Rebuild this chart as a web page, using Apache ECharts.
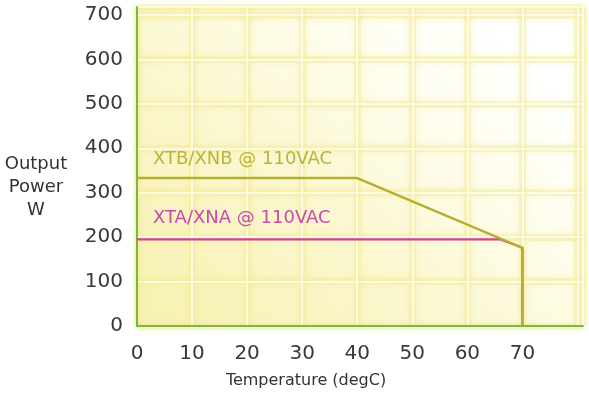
<!DOCTYPE html>
<html><head><meta charset="utf-8">
<script src="https://cdn.jsdelivr.net/npm/echarts@6/dist/echarts.min.js"></script>
<style>html,body{margin:0;padding:0;background:#fff}#c{width:589px;height:396px}</style>
</head><body><div id="c"></div>
<script>
var xTicks = [0, 10, 20, 30, 40, 50, 60, 70];
var yTicks = [0, 100, 200, 300, 400, 500, 600, 700];
var xtbTemp = [0, 40, 70, 70];
var xtbPower = [333, 333, 176, 0];
var xtaTemp = [0, 66, 70, 70];
var xtaPower = [195, 195, 176, 0];
var xtbLabel = 'XTB/XNB @ 110VAC';
var xtaLabel = 'XTA/XNA @ 110VAC';
var yTitle = ['Output', 'Power', 'W'];
var xTitle = 'Temperature (degC)';

function pairs(xs, ys){ return xs.map(function(v,i){ return [v, ys[i]]; }); }

var chart = echarts.init(document.getElementById('c'), null, {renderer:'canvas'});
var FONT = 'DejaVu Sans';
var whiteLine = {color:'rgba(255,255,255,0.9)', width:1.5};
var bandLine = {color:'rgba(243,236,150,0.45)', width:7, shadowColor:'rgba(243,236,150,0.7)', shadowBlur:6};
function xAx(main){
  return {type:'value', position:'bottom', min:0, max:81, interval:10, z: main ? 2 : 1,
    axisLine:{show:main, onZero:false, lineStyle:{color:'#74b84e', width:2}},
    axisTick:{show:false},
    axisLabel:{show:main, margin:18, fontSize:20, color:'#383838', fontFamily:FONT,
      formatter:function(v){ return xTicks.indexOf(v) >= 0 ? String(v) : ''; }},
    splitLine:{show:true, lineStyle: main ? whiteLine : bandLine}};
}
function yAx(main){
  return {type:'value', position:'left', min:0, max:718, interval:100, z: main ? 2 : 1,
    axisLine:{show:main, onZero:false, lineStyle:{color:'#74b84e', width:2}},
    axisTick:{show:false},
    axisLabel:{show:main, margin:14, fontSize:20, color:'#383838', fontFamily:FONT,
      formatter:function(v){ return yTicks.indexOf(v) >= 0 ? String(v) : ''; }},
    splitLine:{show:true, lineStyle: main ? whiteLine : bandLine}};
}
chart.setOption({
  animation:false,
  textStyle:{fontFamily:FONT},
  grid:{left:137, right:6, top:7, bottom:70, show:true, borderWidth:0,
    backgroundColor:{type:'linear', x:0.1, y:1, x2:0.75, y2:0, colorStops:[
      {offset:0, color:'#f8f2b4'},{offset:0.4, color:'#fbf7cf'},{offset:0.75, color:'#fefdee'},{offset:1, color:'#ffffff'}]}},
  xAxis:[xAx(false), xAx(true)],
  yAxis:[yAx(false), yAx(true)],
  series:[
    {type:'line', xAxisIndex:1, yAxisIndex:1, data:pairs(xtaTemp, xtaPower), symbol:'none', z:3,
      lineStyle:{color:'#d0409c', width:2.2}},
    {type:'line', xAxisIndex:1, yAxisIndex:1, data:pairs(xtbTemp, xtbPower), symbol:'none', z:4,
      lineStyle:{color:'#b8ae30', width:2.5}}
  ],
  graphic:[
    {type:'text', z:100, left:153, top:150, style:{text:xtbLabel, fontSize:18, fill:'#bcb33c', fontFamily:FONT}},
    {type:'text', z:100, left:153, top:209, style:{text:xtaLabel, fontSize:18, fill:'#cc48aa', fontFamily:FONT}},
    {type:'text', z:100, x:36, y:153, style:{text:yTitle.join('\n'), fontSize:18, lineHeight:23, fill:'#333', fontFamily:FONT, align:'center'}},
    {type:'text', z:100, x:306, y:373, style:{text:xTitle, fontSize:16, fill:'#333', fontFamily:FONT, align:'center'}}
  ]
});
</script></body></html>
